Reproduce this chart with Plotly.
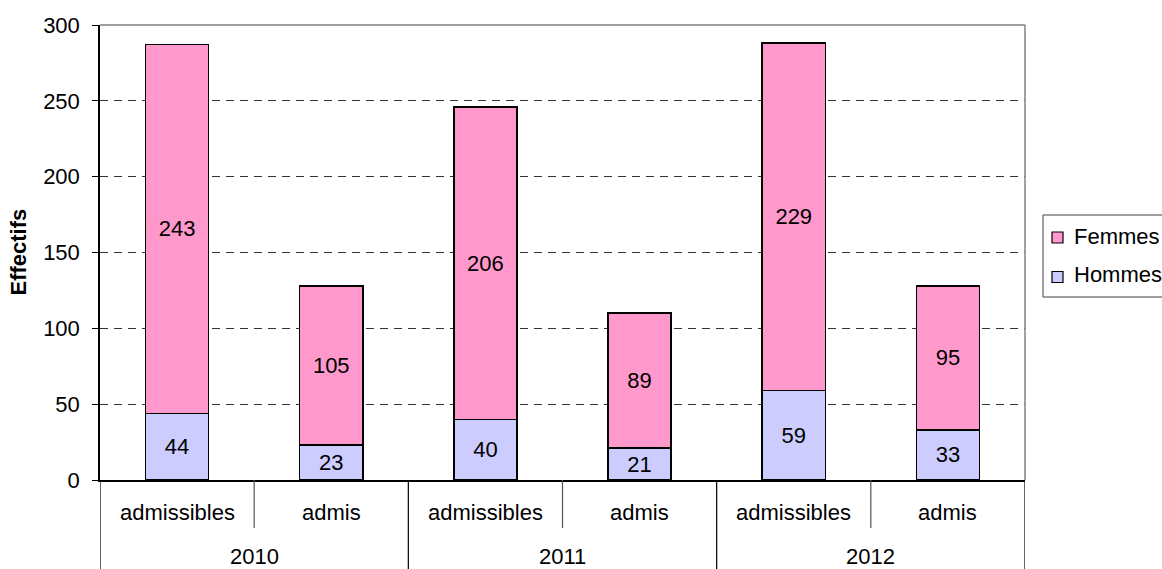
import plotly.graph_objects as go

# Data: admissions by year and stage, split by sex
years = ["2010", "2011", "2012"]
stages = ["admissibles", "admis"]
categories = ["2010 admissibles", "2010 admis",
              "2011 admissibles", "2011 admis",
              "2012 admissibles", "2012 admis"]
hommes = [44, 23, 40, 21, 59, 33]
femmes = [243, 105, 206, 89, 229, 95]
y_ticks = [0, 50, 100, 150, 200, 250, 300]

FONT = "Liberation Sans, Arial, sans-serif"
FS = 22
PINK = "#FF99CC"
LAVENDER = "#CCCCFF"

fig = go.Figure()
fig.add_trace(go.Bar(
    x=categories, y=hommes, name="Hommes", showlegend=False,
    marker=dict(color=LAVENDER, line=dict(color="black", width=1.5)),
    text=hommes, textposition="inside", insidetextanchor="middle",
    textangle=0, constraintext="none",
    textfont=dict(family=FONT, size=FS, color="black"),
))
fig.add_trace(go.Bar(
    x=categories, y=femmes, name="Femmes", showlegend=False,
    marker=dict(color=PINK, line=dict(color="black", width=1.5)),
    text=femmes, textposition="inside", insidetextanchor="middle",
    textangle=0, constraintext="none",
    textfont=dict(family=FONT, size=FS, color="black"),
))

# Geometry of the plot area in pixels
W, H = 1162, 569
ML, MR, MT, MB = 100, 137, 25, 89
plot_w = W - ML - MR
plot_h = H - MT - MB
y_axis_px = H - MB


def px_x(p):
    return (p - ML) / plot_w


def px_y(p):
    return (y_axis_px - p) / plot_h


shapes = []
annotations = []

# Gray frame on top and right
shapes.append(dict(type="line", xref="paper", yref="paper", x0=0, x1=1, y0=1, y1=1,
                   line=dict(color="#808080", width=1.5)))
shapes.append(dict(type="line", xref="paper", yref="paper", x0=1, x1=1, y0=0, y1=1,
                   line=dict(color="#808080", width=1.5)))

# Category dividers below the x axis
short_y = -48 / plot_h
long_y = -(MB + 5) / plot_h
n = len(categories)
for i in range(n + 1):
    xpos = i - 0.5
    is_long = (i % len(stages) == 0)
    shapes.append(dict(type="line", xref="x", yref="paper", x0=xpos, x1=xpos,
                       y0=0, y1=long_y if is_long else short_y,
                       line=dict(color="black" if is_long else "#555555", width=1.2)))

# Stage labels
for i, cat in enumerate(categories):
    annotations.append(dict(x=cat, y=-32 / plot_h, xref="x", yref="paper",
                            text=stages[i % len(stages)], showarrow=False,
                            yanchor="middle", font=dict(family=FONT, size=FS, color="black")))
# Year labels
for j, yr in enumerate(years):
    annotations.append(dict(x=j * len(stages) + (len(stages) - 1) / 2, y=-76 / plot_h,
                            xref="x", yref="paper", text=yr, showarrow=False,
                            yanchor="middle", font=dict(family=FONT, size=FS, color="black")))

# Y axis title
annotations.append(dict(x=px_x(18), y=0.5, xref="paper", yref="paper",
                        text="<b>Effectifs</b>", textangle=-90, showarrow=False,
                        xanchor="center", yanchor="middle",
                        font=dict(family=FONT, size=FS, color="black")))

# Legend box (Femmes above Hommes)
shapes.append(dict(type="rect", xref="paper", yref="paper",
                   x0=px_x(1043), x1=px_x(1175), y0=px_y(297), y1=px_y(215),
                   line=dict(color="#404040", width=1), fillcolor="white"))
legend_items = [("Femmes", PINK, 237.5, 236), ("Hommes", LAVENDER, 277, 274.5)]
for label, color, marker_cy, text_cy in legend_items:
    shapes.append(dict(type="rect", xref="paper", yref="paper",
                       x0=px_x(1052), x1=px_x(1063),
                       y0=px_y(marker_cy + 5.5), y1=px_y(marker_cy - 5.5),
                       line=dict(color="black", width=1.2), fillcolor=color))
    annotations.append(dict(x=px_x(1072), y=px_y(text_cy), xref="paper", yref="paper",
                            text=label, showarrow=False, xanchor="left", yanchor="middle",
                            font=dict(family=FONT, size=FS, color="black")))

fig.update_layout(
    width=W, height=H,
    margin=dict(l=ML, r=MR, t=MT, b=MB, pad=0),
    paper_bgcolor="white", plot_bgcolor="white",
    barmode="stack", bargap=0.59,
    font=dict(family=FONT, size=FS, color="black"),
    showlegend=False,
    xaxis=dict(
        type="category", categoryorder="array", categoryarray=categories,
        range=[-0.5, n - 0.5], showticklabels=False, ticks="",
        showline=True, linecolor="black", linewidth=1.5,
        showgrid=False, zeroline=False, fixedrange=True,
    ),
    yaxis=dict(
        range=[0, 300], tickvals=y_ticks, ticks="outside", ticklen=6,
        tickcolor="black", tickwidth=1,
        showline=True, linecolor="black", linewidth=1.5,
        showgrid=True, gridcolor="#333333", gridwidth=1, griddash="8px,6px",
        zeroline=False, ticklabelstandoff=8,
        tickfont=dict(family=FONT, size=FS, color="black"),
    ),
    shapes=shapes,
    annotations=annotations,
)

fig.write_html("out.html")
